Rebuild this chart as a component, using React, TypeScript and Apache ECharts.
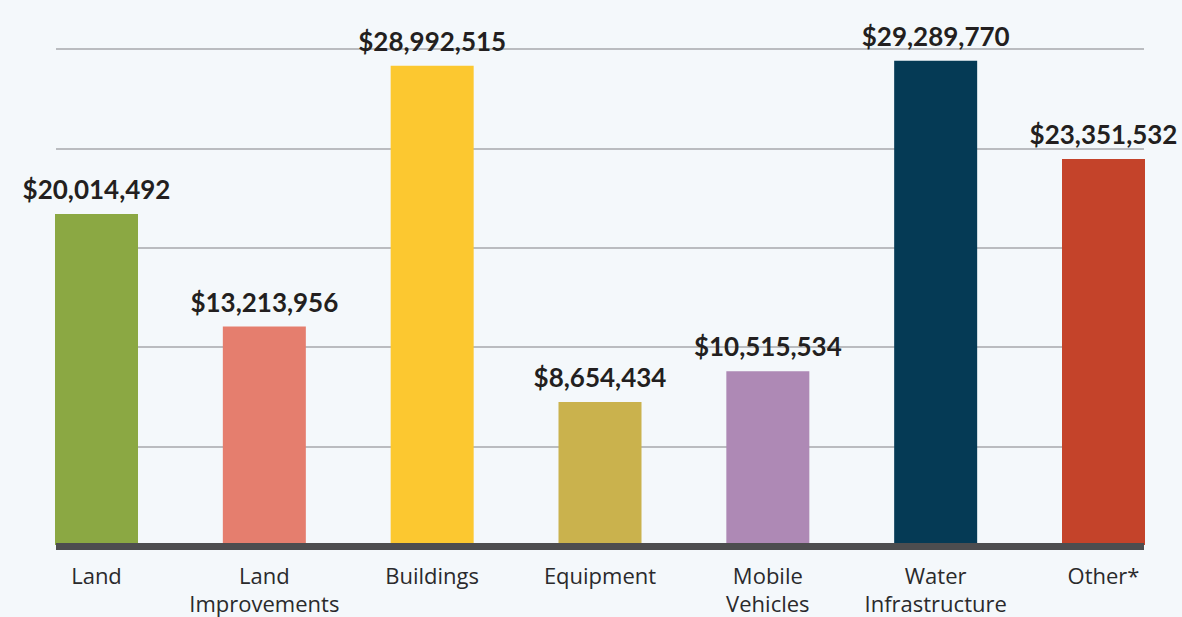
import React, { useEffect, useRef } from "react";
import * as echarts from "echarts";

const categories = [
  "Land",
  "Land\nImprovements",
  "Buildings",
  "Equipment",
  "Mobile\nVehicles",
  "Water\nInfrastructure",
  "Other*",
];
const values = [20014492, 13213956, 28992515, 8654434, 10515534, 29289770, 23351532];
const barColors = ["#8ba843", "#e57e6e", "#fcc830", "#cab24d", "#ae89b5", "#053a55", "#c4432a"];
const yMin = 0;
const yMax = 30000000;
const yInterval = 6000000;

const FONT = "Lato";
const TEXT = "#231f20";

export default function App() {
  const ref = useRef<HTMLDivElement>(null);
  useEffect(() => {
    document.body.style.margin = "0";
    const chart = echarts.init(ref.current!, null, { renderer: "svg" });
    const top = 49;
    const bottom = 71;
    chart.setOption({
      animation: false,
      backgroundColor: "#f4f8fb",
      grid: [
        { left: 96.5, right: 78.5, top, bottom },
        { left: 56, right: 38, top, bottom },
      ],
      xAxis: [
        {
          type: "category",
          gridIndex: 0,
          data: categories,
          boundaryGap: false,
          axisLine: { show: false },
          axisTick: { show: false },
          axisLabel: {
            color: "#2a2a2c",
            fontFamily: "Open Sans",
            fontSize: 22,
            lineHeight: 28,
            margin: 16,
            interval: 0,
          },
          z: 5,
        },
        {
          type: "value",
          gridIndex: 1,
          min: 0,
          max: 1,
          axisLine: { show: true, onZero: false, lineStyle: { color: "#4d4d4f", width: 7, cap: "butt" } },
          axisTick: { show: false },
          axisLabel: { show: false },
          splitLine: { show: false },
          z: 4,
        },
      ],
      yAxis: [
        {
          type: "value",
          gridIndex: 0,
          min: yMin,
          max: yMax,
          interval: yInterval,
          show: false,
          splitLine: { show: false },
        },
        {
          type: "value",
          gridIndex: 1,
          min: yMin,
          max: yMax,
          interval: yInterval,
          axisLine: { show: false },
          axisTick: { show: false },
          axisLabel: { show: false },
          splitLine: { show: true, lineStyle: { color: "#a7a9ac", width: 1.5 } },
        },
      ],
      series: [
        {
          type: "bar",
          xAxisIndex: 0,
          yAxisIndex: 0,
          barWidth: 83,
          data: values.map((v, i) => ({ value: v, itemStyle: { color: barColors[i] } })),
          label: {
            show: true,
            position: "top",
            distance: 12,
            color: TEXT,
            fontFamily: FONT,
            fontWeight: "bold",
            fontSize: 26,
            formatter: (p: any) => "$" + Number(p.value).toLocaleString("en-US"),
          },
          z: 3,
        },
      ],
    });
    return () => chart.dispose();
  }, []);
  return <div ref={ref} style={{ width: 1182, height: 617 }} />;
}
